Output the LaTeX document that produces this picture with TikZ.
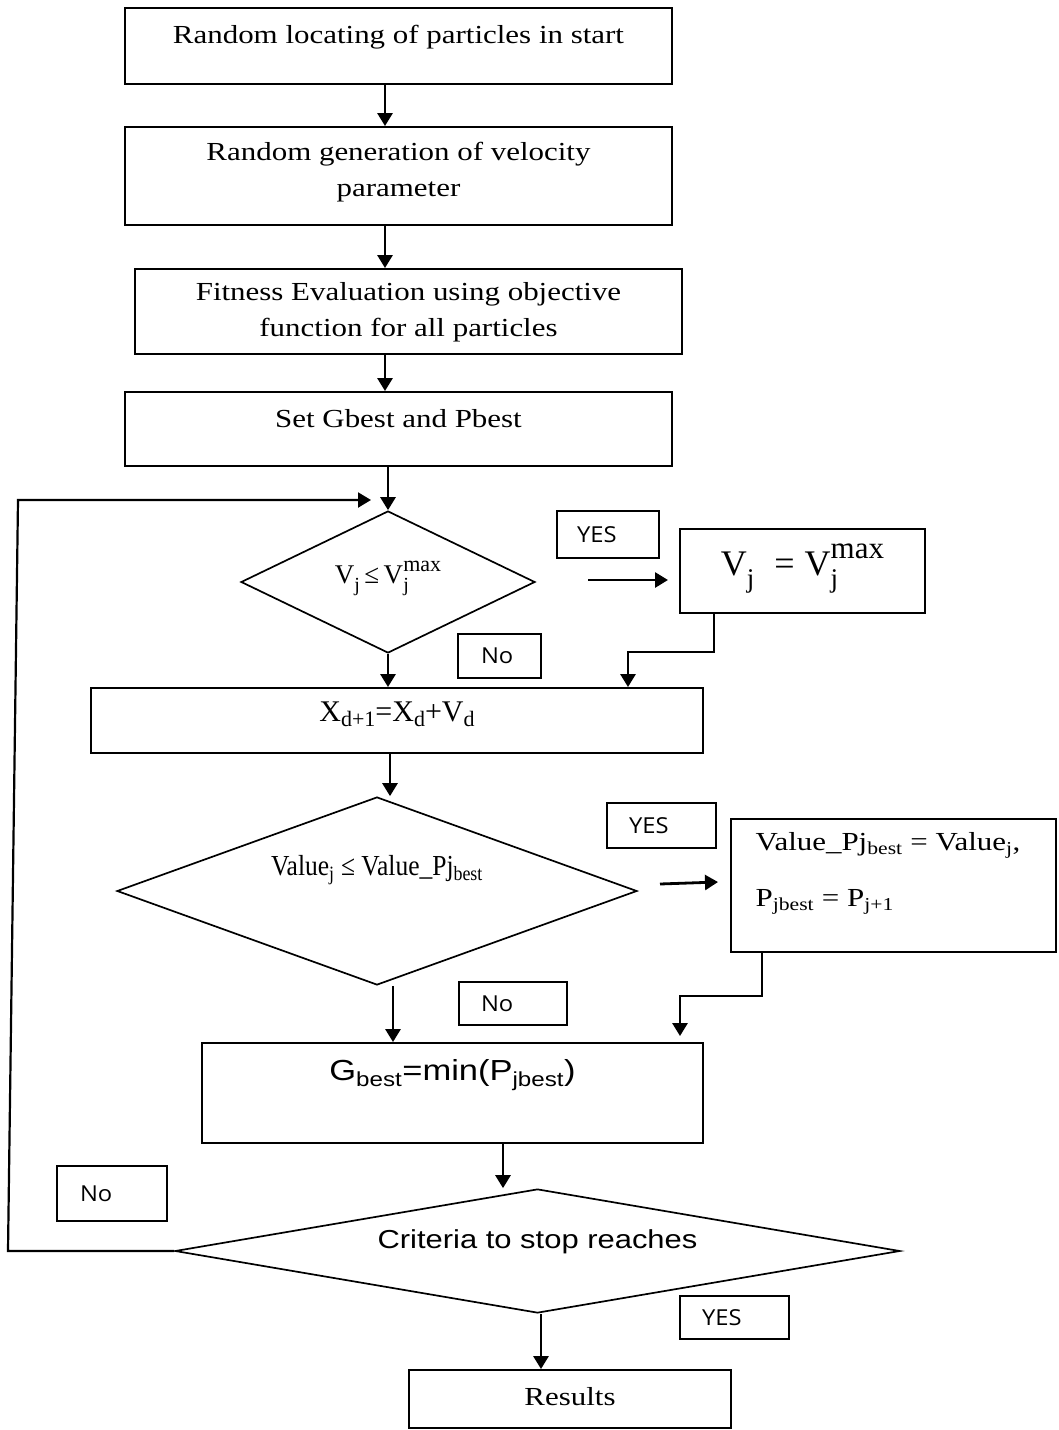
\documentclass[tikz,border=0pt]{standalone}
\usepackage{fontspec}
\setmainfont{Liberation Serif}[FakeStretch=1.19]
\newfontfamily\tnr{Liberation Serif}
\newfontfamily\condf{Liberation Serif}[FakeStretch=0.88]
\newfontfamily\arialf{Liberation Sans}[FakeStretch=1.19]
\newfontfamily\tagf{Open Sans}[FakeStretch=1.08]
\usetikzlibrary{shapes.geometric,arrows.meta}
% lowered / raised pieces with explicit sizes
\newcommand\lowr[3]{\raisebox{-#1pt}{\fontsize{#2}{#2}\selectfont #3}}
\newcommand\highr[3]{\raisebox{#1pt}{\fontsize{#2}{#2}\selectfont #3}}
\tikzset{
  box/.style={draw, line width=1.9pt, inner sep=0pt},
  txt/.style={font=\fontsize{26}{36}\selectfont, align=center},
  dia/.style={draw, diamond, line width=1.7pt, inner sep=0pt},
  tag/.style={draw, line width=1.4pt, align=left, inner ysep=0pt, font=\tagf\fontsize{22}{26}\selectfont},
  arr/.style={line width=2.8pt, -{Triangle[length=13pt,width=15pt]}},
  loopl/.style={line width=2.2pt, -{Triangle[length=13pt,width=15pt]}}
}
\begin{document}
\begin{tikzpicture}[x=1pt,y=-1pt]
\path[use as bounding box] (0,0) rectangle (1058,1430);

% main boxes
\node[box, minimum width=547, minimum height=76,
  label={[txt, yshift=9]center:Random locating of particles in start}] (b1) at (398.5,46) {};
\node[box, minimum width=547, minimum height=98,
  label={[txt, yshift=4]center:Random generation of velocity\\parameter}] (b2) at (398.5,176) {};
\node[box, minimum width=547, minimum height=85,
  label={[txt, yshift=-1]center:Fitness Evaluation using objective\\function for all particles}] (b3) at (408.5,311.5) {};
\node[box, minimum width=547, minimum height=74,
  label={[txt, yshift=10]center:Set Gbest and Pbest}] (b4) at (398.5,429) {};

% diamond 1
\node[dia, minimum width=294, minimum height=142,
  label={[font=\tnr\fontsize{27}{30}\selectfont, yshift=4]center:V\lowr{8}{20}{j}\,≤\,V\rlap{\lowr{8}{20}{j}}\highr{12}{22}{max}}] (d1) at (388,582) {};
\node[tag, text width=62, inner xsep=20, minimum height=47] (yes1) at (608,534.5) {YES};
\node[box, minimum width=245, minimum height=84,
  label={[font=\tnr\fontsize{36}{40}\selectfont, yshift=2]center:V\lowr{12}{27}{j}\;\;=\;V\rlap{\lowr{12}{27}{j}}\highr{17}{31}{max}}] (vbox) at (802.5,571) {};
\node[tag, text width=37, inner xsep=23, minimum height=44] (no1) at (499.5,656) {No};

\node[box, minimum width=612, minimum height=65,
  label={[font=\tnr\fontsize{30}{32}\selectfont, yshift=6]center:X\lowr{5}{22}{d+1}=X\lowr{5}{22}{d}+V\lowr{5}{22}{d}}] (bx) at (397,720.5) {};

% diamond 2
\node[dia, minimum width=520, minimum height=188,
  label={[font=\condf\fontsize{29}{32}\selectfont, yshift=21]center:Value\textsubscript{j} ≤ Value\_Pj\textsubscript{best}}] (d2) at (377,891) {};
\node[tag, text width=65, inner xsep=22, minimum height=45] (yes2) at (661.5,825.5) {YES};
\node[box, minimum width=325, minimum height=133,
  label={[anchor=west, align=left, font=\fontsize{26}{56}\selectfont, xshift=22, yshift=12]west:Value\_Pj\textsubscript{best} = Value\textsubscript{j},\\P\textsubscript{jbest} = P\textsubscript{j+1}}] (val) at (893.5,885.5) {};
\node[tag, text width=64, inner xsep=22, minimum height=43] (no2) at (513,1003.5) {No};

\node[box, minimum width=501, minimum height=100,
  label={[font=\arialf\fontsize{29}{30}\selectfont, yshift=18]center:G\textsubscript{best}=min(P\textsubscript{jbest})}] (g) at (452.5,1093) {};

% diamond 3
\node[tag, text width=64, inner xsep=23, minimum height=55] (no3) at (112,1193.5) {No};
\node[dia, minimum width=725, minimum height=124,
  label={[font=\arialf\fontsize{26}{30}\selectfont, yshift=9]center:Criteria to stop reaches}] (d3) at (537.5,1251) {};
\node[tag, text width=65, inner xsep=22, minimum height=43] (yes3) at (734.5,1317.5) {YES};
\node[box, minimum width=322, minimum height=58,
  label={[txt, yshift=2]center:Results}] (res) at (570,1399) {};

% connectors
\draw[arr] ([xshift=-13.5]b1.south) -- ([xshift=-13.5]b2.north);
\draw[arr] ([xshift=-13.5]b2.south) -- ([xshift=-23.5]b3.north);
\draw[arr] ([xshift=-23.5]b3.south) -- ([xshift=-13.5]b4.north);
\draw[arr] ([xshift=-10.5]b4.south) -- (d1.north);
\coordinate (loopend) at (371,500);
\draw[loopl] (d3.west) -- (8,1251) -- (18,500) -- (loopend);

\coordinate (ya1) at (588,580);
\coordinate (ya2) at (668,580);
\draw[arr] (ya1) -- (ya2);
\draw[arr] ([xshift=-88.5]vbox.south) -- ++(0,38) -| ([xshift=231]bx.north);
\draw[arr] (d1.south) -- (d1.south |- bx.north);
\draw[arr] ([xshift=-7]bx.south) -- ([xshift=13]d2.north);

\coordinate (yb1) at (660,884);
\coordinate (yb2) at (718,882);
\draw[arr] (yb1) -- (yb2);
\draw[arr, shorten >=6pt] ([xshift=-131.5]val.south) -- ++(0,43) -| ([xshift=227.5]g.north);
\draw[arr] ([xshift=16]d2.south) -- ([xshift=-59.5]g.north);
\draw[arr] ([xshift=50.5]g.south) -- ([xshift=-34.5]d3.north);
\draw[arr] ([xshift=3.5]d3.south) -- ([xshift=-29]res.north);
\end{tikzpicture}
\end{document}
